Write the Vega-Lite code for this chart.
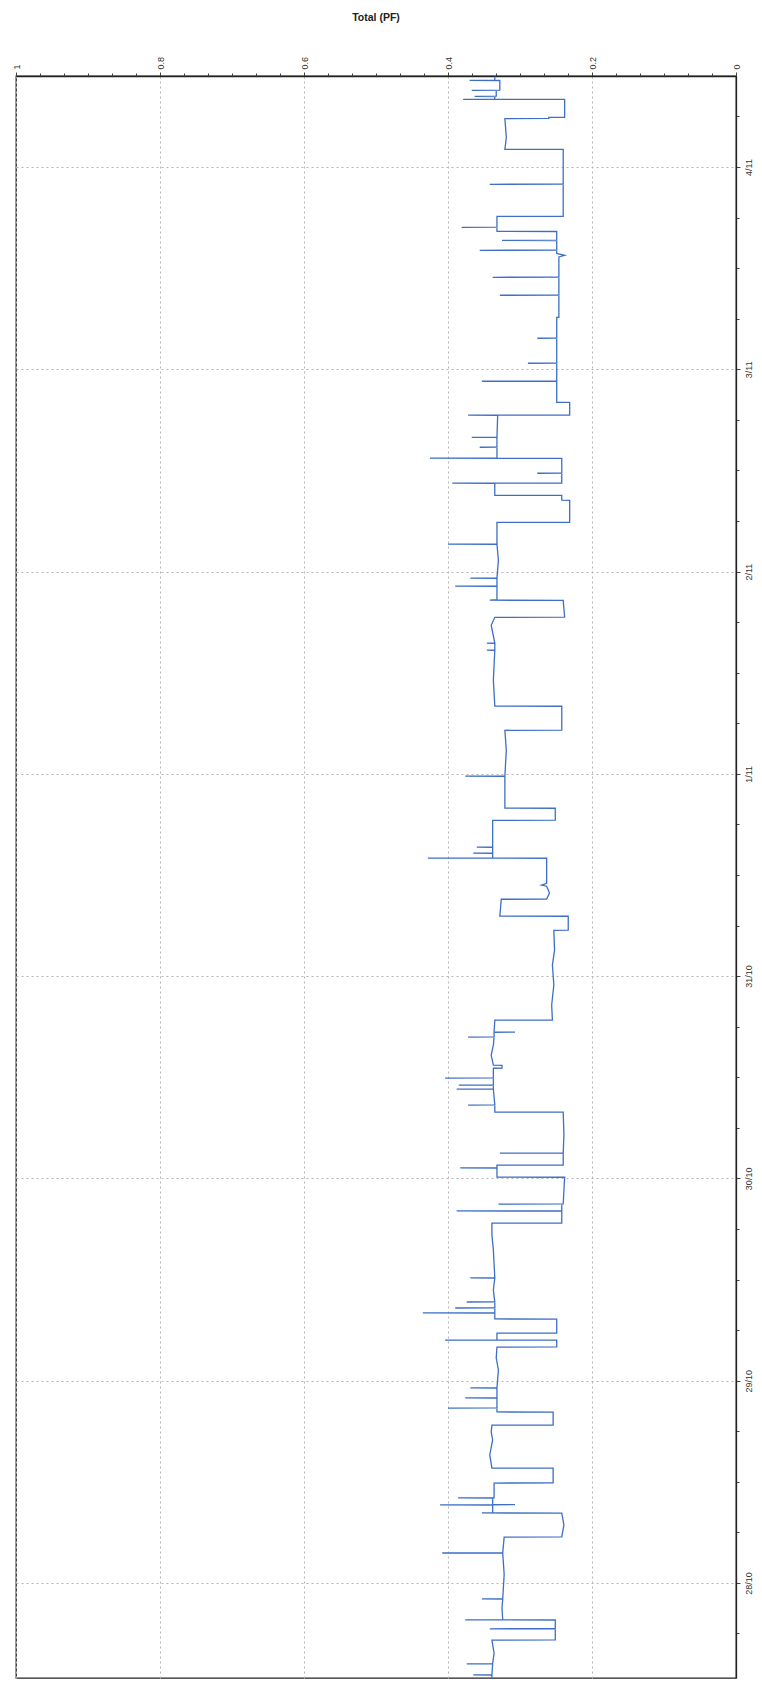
{
  "$schema": "https://vega.github.io/schema/vega-lite/v6.json",
  "width": 720,
  "height": 1602,
  "autosize": {"type": "none"},
  "padding": {"left": 16, "top": 76, "right": 26, "bottom": 6},
  "background": "white",
  "title": {"text": "Total (PF)", "fontSize": 10.5, "font": "Liberation Sans", "fontWeight": "bold", "color": "#222", "offset": 33, "anchor": "middle"},
  "config": {
    "view": {"stroke": "#222", "strokeWidth": 1.3},
    "axis": {"labelFont": "Liberation Sans", "labelFontSize": 9, "labelColor": "#333", "tickColor": "#444", "domainColor": "#222", "domainWidth": 1.3, "title": null, "labelOverlap": false}
  },
  "data": {
    "values": [
      {"t":"2010-10-27T12:43","v":0.339},
      {"t":"2010-10-27T13:04","v":0.339},{"t":"2010-10-27T13:05","v":0.365},{"t":"2010-10-27T13:06","v":0.339},
      {"t":"2010-10-27T14:23","v":0.338},{"t":"2010-10-27T14:24","v":0.374},{"t":"2010-10-27T14:25","v":0.338},
      {"t":"2010-10-27T15:40","v":0.336},
      {"t":"2010-10-27T17:13","v":0.339},{"t":"2010-10-27T17:14","v":0.251},
      {"t":"2010-10-27T18:32","v":0.251},{"t":"2010-10-27T18:33","v":0.342},{"t":"2010-10-27T18:35","v":0.251},
      {"t":"2010-10-27T19:36","v":0.251},{"t":"2010-10-27T19:37","v":0.376},{"t":"2010-10-27T19:39","v":0.324},
      {"t":"2010-10-27T21:00","v":0.325},
      {"t":"2010-10-27T22:05","v":0.324},{"t":"2010-10-27T22:06","v":0.353},{"t":"2010-10-27T22:07","v":0.324},
      {"t":"2010-10-28T01:00","v":0.322},
      {"t":"2010-10-28T03:32","v":0.324},{"t":"2010-10-28T03:33","v":0.408},{"t":"2010-10-28T03:34","v":0.324},
      {"t":"2010-10-28T05:26","v":0.322},{"t":"2010-10-28T05:27","v":0.242},
      {"t":"2010-10-28T06:53","v":0.239},
      {"t":"2010-10-28T08:17","v":0.242},{"t":"2010-10-28T08:18","v":0.353},{"t":"2010-10-28T08:19","v":0.338},
      {"t":"2010-10-28T09:14","v":0.338},{"t":"2010-10-28T09:15","v":0.411},{"t":"2010-10-28T09:16","v":0.338},{"t":"2010-10-28T09:17","v":0.307},{"t":"2010-10-28T09:18","v":0.338},
      {"t":"2010-10-28T10:04","v":0.338},{"t":"2010-10-28T10:05","v":0.386},{"t":"2010-10-28T10:06","v":0.336},
      {"t":"2010-10-28T11:51","v":0.336},{"t":"2010-10-28T11:52","v":0.254},
      {"t":"2010-10-28T13:37","v":0.254},{"t":"2010-10-28T13:38","v":0.339},
      {"t":"2010-10-28T15:11","v":0.342},
      {"t":"2010-10-28T16:58","v":0.338},
      {"t":"2010-10-28T17:55","v":0.340},
      {"t":"2010-10-28T18:43","v":0.339},{"t":"2010-10-28T18:44","v":0.254},
      {"t":"2010-10-28T20:16","v":0.254},{"t":"2010-10-28T20:17","v":0.332},
      {"t":"2010-10-28T20:44","v":0.332},{"t":"2010-10-28T20:45","v":0.400},{"t":"2010-10-28T20:46","v":0.332},
      {"t":"2010-10-28T21:56","v":0.332},{"t":"2010-10-28T21:57","v":0.376},{"t":"2010-10-28T21:58","v":0.332},
      {"t":"2010-10-28T23:07","v":0.332},{"t":"2010-10-28T23:08","v":0.369},{"t":"2010-10-28T23:09","v":0.332},
      {"t":"2010-10-29T01:16","v":0.330},
      {"t":"2010-10-29T02:41","v":0.333},
      {"t":"2010-10-29T03:59","v":0.332},{"t":"2010-10-29T04:00","v":0.249},
      {"t":"2010-10-29T04:48","v":0.249},{"t":"2010-10-29T04:49","v":0.404},{"t":"2010-10-29T04:50","v":0.332},
      {"t":"2010-10-29T05:38","v":0.332},{"t":"2010-10-29T05:39","v":0.249},
      {"t":"2010-10-29T07:18","v":0.249},{"t":"2010-10-29T07:19","v":0.335},
      {"t":"2010-10-29T08:01","v":0.335},{"t":"2010-10-29T08:02","v":0.435},{"t":"2010-10-29T08:03","v":0.335},
      {"t":"2010-10-29T08:36","v":0.335},{"t":"2010-10-29T08:37","v":0.390},{"t":"2010-10-29T08:38","v":0.335},
      {"t":"2010-10-29T09:19","v":0.335},{"t":"2010-10-29T09:20","v":0.374},{"t":"2010-10-29T09:21","v":0.335},
      {"t":"2010-10-29T10:45","v":0.337},
      {"t":"2010-10-29T12:10","v":0.335},{"t":"2010-10-29T12:11","v":0.369},{"t":"2010-10-29T12:12","v":0.335},
      {"t":"2010-10-29T15:30","v":0.337},
      {"t":"2010-10-29T17:17","v":0.339},
      {"t":"2010-10-29T18:41","v":0.339},{"t":"2010-10-29T18:42","v":0.242},
      {"t":"2010-10-29T20:07","v":0.242},{"t":"2010-10-29T20:08","v":0.388},{"t":"2010-10-29T20:09","v":0.242},
      {"t":"2010-10-29T20:56","v":0.242},{"t":"2010-10-29T20:57","v":0.330},{"t":"2010-10-29T20:58","v":0.240},
      {"t":"2010-10-29T22:37","v":0.239},
      {"t":"2010-10-30T00:08","v":0.238},{"t":"2010-10-30T00:09","v":0.332},
      {"t":"2010-10-30T01:13","v":0.332},{"t":"2010-10-30T01:14","v":0.383},{"t":"2010-10-30T01:15","v":0.332},
      {"t":"2010-10-30T01:34","v":0.332},{"t":"2010-10-30T01:35","v":0.240},
      {"t":"2010-10-30T02:59","v":0.240},{"t":"2010-10-30T03:00","v":0.328},{"t":"2010-10-30T03:01","v":0.240},
      {"t":"2010-10-30T05:08","v":0.239},
      {"t":"2010-10-30T07:51","v":0.240},{"t":"2010-10-30T07:52","v":0.335},
      {"t":"2010-10-30T08:41","v":0.335},{"t":"2010-10-30T08:42","v":0.372},{"t":"2010-10-30T08:43","v":0.335},
      {"t":"2010-10-30T10:35","v":0.337},{"t":"2010-10-30T10:36","v":0.388},{"t":"2010-10-30T10:37","v":0.337},
      {"t":"2010-10-30T11:03","v":0.337},{"t":"2010-10-30T11:04","v":0.385},{"t":"2010-10-30T11:05","v":0.337},
      {"t":"2010-10-30T11:53","v":0.337},{"t":"2010-10-30T11:54","v":0.404},{"t":"2010-10-30T11:55","v":0.337},
      {"t":"2010-10-30T13:04","v":0.337},{"t":"2010-10-30T13:05","v":0.325},{"t":"2010-10-30T13:25","v":0.325},{"t":"2010-10-30T13:26","v":0.337},
      {"t":"2010-10-30T14:38","v":0.340},
      {"t":"2010-10-30T15:49","v":0.337},
      {"t":"2010-10-30T16:45","v":0.336},{"t":"2010-10-30T16:46","v":0.372},{"t":"2010-10-30T16:47","v":0.336},
      {"t":"2010-10-30T17:20","v":0.336},{"t":"2010-10-30T17:21","v":0.307},{"t":"2010-10-30T17:22","v":0.336},
      {"t":"2010-10-30T18:46","v":0.335},{"t":"2010-10-30T18:47","v":0.255},
      {"t":"2010-10-30T20:34","v":0.256},
      {"t":"2010-10-30T22:56","v":0.253},
      {"t":"2010-10-31T01:18","v":0.255},
      {"t":"2010-10-31T03:05","v":0.252},
      {"t":"2010-10-31T05:26","v":0.253},{"t":"2010-10-31T05:27","v":0.233},
      {"t":"2010-10-31T07:06","v":0.233},{"t":"2010-10-31T07:07","v":0.328},
      {"t":"2010-10-31T09:07","v":0.326},{"t":"2010-10-31T09:08","v":0.263},
      {"t":"2010-10-31T09:51","v":0.259},
      {"t":"2010-10-31T10:40","v":0.263},{"t":"2010-10-31T10:48","v":0.270},{"t":"2010-10-31T11:00","v":0.263},
      {"t":"2010-10-31T13:59","v":0.263},{"t":"2010-10-31T14:00","v":0.428},{"t":"2010-10-31T14:01","v":0.338},
      {"t":"2010-10-31T14:34","v":0.338},{"t":"2010-10-31T14:35","v":0.365},{"t":"2010-10-31T14:36","v":0.338},
      {"t":"2010-10-31T15:17","v":0.338},{"t":"2010-10-31T15:18","v":0.360},{"t":"2010-10-31T15:19","v":0.338},
      {"t":"2010-10-31T18:29","v":0.338},{"t":"2010-10-31T18:30","v":0.251},
      {"t":"2010-10-31T19:55","v":0.251},{"t":"2010-10-31T19:56","v":0.321},
      {"t":"2010-10-31T23:42","v":0.321},{"t":"2010-10-31T23:43","v":0.376},{"t":"2010-10-31T23:44","v":0.321},
      {"t":"2010-11-01T02:48","v":0.319},
      {"t":"2010-11-01T05:10","v":0.321},{"t":"2010-11-01T05:11","v":0.242},
      {"t":"2010-11-01T08:01","v":0.242},{"t":"2010-11-01T08:02","v":0.335},
      {"t":"2010-11-01T11:07","v":0.337},
      {"t":"2010-11-01T14:39","v":0.335},{"t":"2010-11-01T14:40","v":0.346},{"t":"2010-11-01T14:41","v":0.335},
      {"t":"2010-11-01T15:29","v":0.335},{"t":"2010-11-01T15:30","v":0.346},{"t":"2010-11-01T15:31","v":0.335},
      {"t":"2010-11-01T17:38","v":0.340},
      {"t":"2010-11-01T18:34","v":0.335},{"t":"2010-11-01T18:35","v":0.238},
      {"t":"2010-11-01T20:35","v":0.240},{"t":"2010-11-01T20:36","v":0.342},{"t":"2010-11-01T20:40","v":0.332},
      {"t":"2010-11-01T22:15","v":0.332},{"t":"2010-11-01T22:16","v":0.390},{"t":"2010-11-01T22:17","v":0.332},
      {"t":"2010-11-01T23:12","v":0.332},{"t":"2010-11-01T23:13","v":0.369},{"t":"2010-11-01T23:14","v":0.332},
      {"t":"2010-11-02T01:21","v":0.330},
      {"t":"2010-11-02T03:14","v":0.332},{"t":"2010-11-02T03:15","v":0.400},{"t":"2010-11-02T03:16","v":0.332},
      {"t":"2010-11-02T05:50","v":0.332},{"t":"2010-11-02T05:51","v":0.231},
      {"t":"2010-11-02T08:27","v":0.231},{"t":"2010-11-02T08:28","v":0.242},
      {"t":"2010-11-02T09:02","v":0.242},{"t":"2010-11-02T09:03","v":0.335},
      {"t":"2010-11-02T10:28","v":0.335},{"t":"2010-11-02T10:29","v":0.394},{"t":"2010-11-02T10:30","v":0.242},
      {"t":"2010-11-02T11:39","v":0.242},{"t":"2010-11-02T11:40","v":0.276},{"t":"2010-11-02T11:41","v":0.242},
      {"t":"2010-11-02T13:26","v":0.242},{"t":"2010-11-02T13:27","v":0.425},{"t":"2010-11-02T13:28","v":0.332},
      {"t":"2010-11-02T14:44","v":0.332},{"t":"2010-11-02T14:45","v":0.356},{"t":"2010-11-02T14:46","v":0.332},
      {"t":"2010-11-02T15:55","v":0.332},{"t":"2010-11-02T15:56","v":0.367},{"t":"2010-11-02T15:57","v":0.332},
      {"t":"2010-11-02T18:32","v":0.331},{"t":"2010-11-02T18:33","v":0.372},{"t":"2010-11-02T18:34","v":0.231},
      {"t":"2010-11-02T20:04","v":0.231},{"t":"2010-11-02T20:05","v":0.249},
      {"t":"2010-11-02T22:34","v":0.249},{"t":"2010-11-02T22:35","v":0.353},{"t":"2010-11-02T22:36","v":0.249},
      {"t":"2010-11-03T00:42","v":0.249},{"t":"2010-11-03T00:43","v":0.289},{"t":"2010-11-03T00:44","v":0.249},
      {"t":"2010-11-03T03:40","v":0.249},{"t":"2010-11-03T03:41","v":0.276},{"t":"2010-11-03T03:42","v":0.249},
      {"t":"2010-11-03T06:09","v":0.249},{"t":"2010-11-03T06:10","v":0.246},
      {"t":"2010-11-03T08:46","v":0.246},{"t":"2010-11-03T08:47","v":0.328},{"t":"2010-11-03T08:48","v":0.246},
      {"t":"2010-11-03T10:54","v":0.246},{"t":"2010-11-03T10:55","v":0.338},{"t":"2010-11-03T10:56","v":0.246},
      {"t":"2010-11-03T13:20","v":0.246},{"t":"2010-11-03T13:31","v":0.238},{"t":"2010-11-03T13:45","v":0.249},
      {"t":"2010-11-03T14:06","v":0.249},{"t":"2010-11-03T14:07","v":0.356},{"t":"2010-11-03T14:08","v":0.249},
      {"t":"2010-11-03T15:17","v":0.249},{"t":"2010-11-03T15:18","v":0.325},{"t":"2010-11-03T15:19","v":0.249},
      {"t":"2010-11-03T16:21","v":0.249},{"t":"2010-11-03T16:22","v":0.332},
      {"t":"2010-11-03T16:50","v":0.332},{"t":"2010-11-03T16:51","v":0.381},{"t":"2010-11-03T16:52","v":0.332},
      {"t":"2010-11-03T18:08","v":0.332},{"t":"2010-11-03T18:09","v":0.240},
      {"t":"2010-11-03T21:56","v":0.240},{"t":"2010-11-03T21:57","v":0.342},{"t":"2010-11-03T21:58","v":0.240},
      {"t":"2010-11-04T02:05","v":0.240},{"t":"2010-11-04T02:06","v":0.321},
      {"t":"2010-11-04T03:30","v":0.319},
      {"t":"2010-11-04T05:45","v":0.321},{"t":"2010-11-04T05:46","v":0.260},
      {"t":"2010-11-04T05:53","v":0.260},{"t":"2010-11-04T05:54","v":0.238},
      {"t":"2010-11-04T08:01","v":0.238},{"t":"2010-11-04T08:02","v":0.379},{"t":"2010-11-04T08:03","v":0.335},
      {"t":"2010-11-04T08:22","v":0.335},{"t":"2010-11-04T08:23","v":0.363},{"t":"2010-11-04T08:24","v":0.333},
      {"t":"2010-11-04T09:05","v":0.333},{"t":"2010-11-04T09:06","v":0.367},{"t":"2010-11-04T09:07","v":0.328},
      {"t":"2010-11-04T10:16","v":0.328},{"t":"2010-11-04T10:17","v":0.370},{"t":"2010-11-04T10:18","v":0.335},
      {"t":"2010-11-04T10:45","v":0.335}
    ]
  },
  "mark": {"type": "line", "color": "#3d6fc6", "strokeWidth": 1.3},
  "encoding": {
    "x": {
      "field": "v", "type": "quantitative",
      "scale": {"domain": [0, 1], "reverse": true, "nice": false, "zero": false},
      "axis": {
        "orient": "top",
        "values": [0, 0.0333, 0.0667, 0.1, 0.1333, 0.1667, 0.2, 0.2333, 0.2667, 0.3, 0.3333, 0.3667, 0.4, 0.4333, 0.4667, 0.5, 0.5333, 0.5667, 0.6, 0.6333, 0.6667, 0.7, 0.7333, 0.7667, 0.8, 0.8333, 0.8667, 0.9, 0.9333, 0.9667, 1],
        "labelExpr": "abs(datum.value * 5 - round(datum.value * 5)) < 0.01 ? format(datum.value, '~g') : ''",
        "labelAngle": -90, "labelPadding": 3,
        "tickSize": {"condition": {"test": "abs(datum.value * 5 - round(datum.value * 5)) < 0.01", "value": 4}, "value": 3},
        "grid": true, "gridDash": [2, 3], "gridColor": "#b5b5b5", "gridWidth": 1,
        "gridOpacity": {"condition": {"test": "abs(datum.value * 5 - round(datum.value * 5)) < 0.01", "value": 1}, "value": 0}
      }
    },
    "y": {
      "field": "t", "type": "temporal",
      "scale": {"domain": [{"year": 2010, "month": 10, "date": 27, "hours": 12, "minutes": 43}, {"year": 2010, "month": 11, "date": 4, "hours": 10, "minutes": 48}], "nice": false},
      "axis": {
        "orient": "right",
        "values": [
          {"year": 2010, "month": 10, "date": 27, "hours": 18},
          {"year": 2010, "month": 10, "date": 28, "hours": 0}, {"year": 2010, "month": 10, "date": 28, "hours": 6}, {"year": 2010, "month": 10, "date": 28, "hours": 12}, {"year": 2010, "month": 10, "date": 28, "hours": 18},
          {"year": 2010, "month": 10, "date": 29, "hours": 0}, {"year": 2010, "month": 10, "date": 29, "hours": 6}, {"year": 2010, "month": 10, "date": 29, "hours": 12}, {"year": 2010, "month": 10, "date": 29, "hours": 18},
          {"year": 2010, "month": 10, "date": 30, "hours": 0}, {"year": 2010, "month": 10, "date": 30, "hours": 6}, {"year": 2010, "month": 10, "date": 30, "hours": 12}, {"year": 2010, "month": 10, "date": 30, "hours": 18},
          {"year": 2010, "month": 10, "date": 31, "hours": 0}, {"year": 2010, "month": 10, "date": 31, "hours": 6}, {"year": 2010, "month": 10, "date": 31, "hours": 12}, {"year": 2010, "month": 10, "date": 31, "hours": 18},
          {"year": 2010, "month": 11, "date": 1, "hours": 0}, {"year": 2010, "month": 11, "date": 1, "hours": 6}, {"year": 2010, "month": 11, "date": 1, "hours": 12}, {"year": 2010, "month": 11, "date": 1, "hours": 18},
          {"year": 2010, "month": 11, "date": 2, "hours": 0}, {"year": 2010, "month": 11, "date": 2, "hours": 6}, {"year": 2010, "month": 11, "date": 2, "hours": 12}, {"year": 2010, "month": 11, "date": 2, "hours": 18},
          {"year": 2010, "month": 11, "date": 3, "hours": 0}, {"year": 2010, "month": 11, "date": 3, "hours": 6}, {"year": 2010, "month": 11, "date": 3, "hours": 12}, {"year": 2010, "month": 11, "date": 3, "hours": 18},
          {"year": 2010, "month": 11, "date": 4, "hours": 0}, {"year": 2010, "month": 11, "date": 4, "hours": 6}
        ],
        "labelExpr": "hours(datum.value) == 0 ? timeFormat(datum.value, '%-d/%-m') : ''",
        "labelAngle": -90, "labelPadding": 4,
        "tickSize": {"condition": {"test": "hours(datum.value) == 0", "value": 4}, "value": 3},
        "grid": true, "gridDash": [2, 3], "gridColor": "#b5b5b5", "gridWidth": 1,
        "gridOpacity": {"condition": {"test": "hours(datum.value) == 0", "value": 1}, "value": 0}
      }
    }
  }
}
